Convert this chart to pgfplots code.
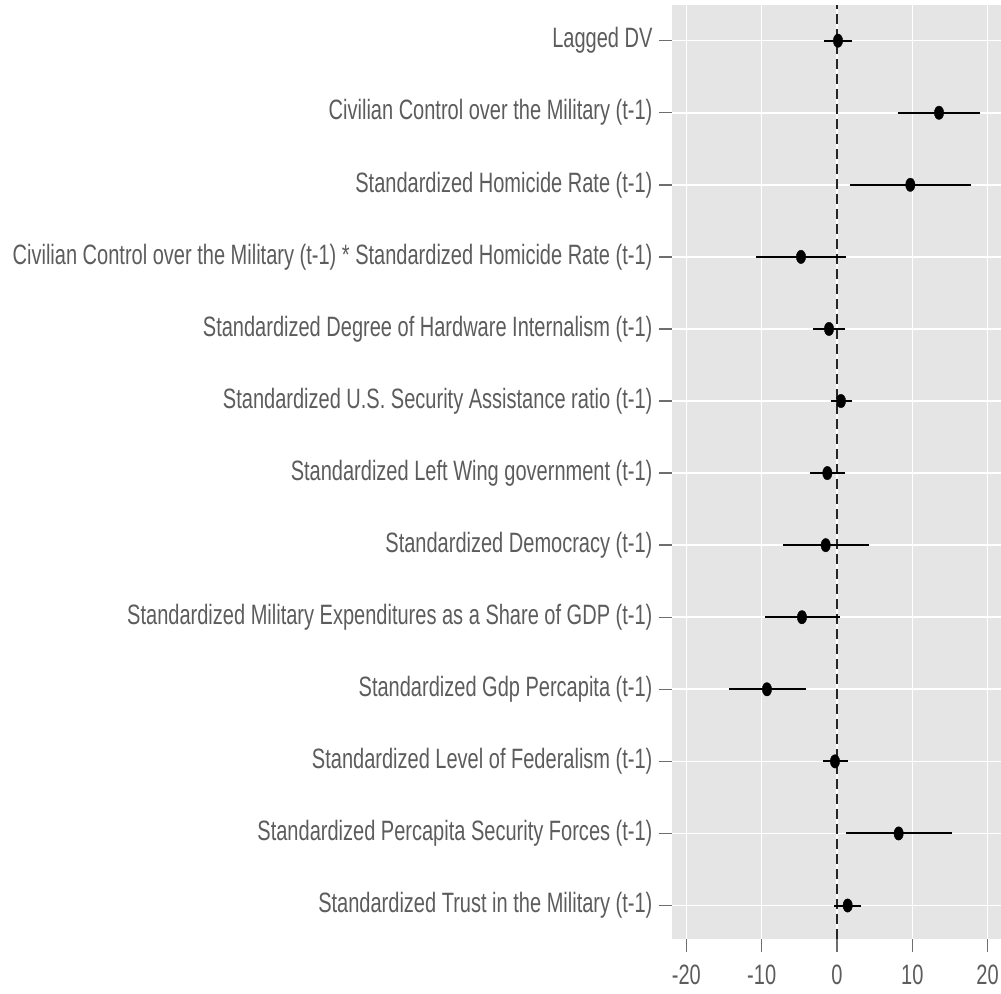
\documentclass[border=0pt]{standalone}
\usepackage{fontspec}
\setmainfont[FakeStretch=0.715]{Liberation Sans}
\usepackage{pgfplots}
\pgfplotsset{compat=1.18}
\usepackage{pgfplotstable}
\usetikzlibrary{calc}
\definecolor{panelbg}{RGB}{229,229,229}
\definecolor{labgray}{RGB}{92,92,92}
\definecolor{tickgray}{RGB}{110,110,110}
\pgfplotstableread{
row est lo hi
1 0.13 -1.69 1.95
2 13.55 8.1 19.0
3 9.74 1.68 17.8
4 -4.78 -10.76 1.2
5 -1.06 -3.23 1.06
6 0.53 -0.75 1.95
7 -1.28 -3.58 1.06
8 -1.5 -7.13 4.2
9 -4.65 -9.6 0.35
10 -9.3 -14.4 -4.1
11 -0.27 -1.9 1.42
12 8.19 1.2 15.23
13 1.42 -0.35 3.23
}\coefs
\begin{document}
\begin{tikzpicture}
\begin{axis}[
  name=ax,
  scale only axis,
  width=329pt, height=934pt,
  xmin=-21.91, xmax=21.78,
  ymin=0.505, ymax=13.465,
  y dir=reverse,
  axis line style={draw=none},
  axis background/.style={fill=panelbg},
  xtick={-20,-10,0,10,20},
  xticklabels={-20,-10,0,10,20},
  ytick={1,...,13},
  yticklabels={
    Lagged DV,
    Civilian Control over the Military (t-1),
    Standardized Homicide Rate (t-1),
    Civilian Control over the Military (t-1) * Standardized Homicide Rate (t-1),
    Standardized Degree of Hardware Internalism (t-1),
    Standardized U.S. Security Assistance ratio (t-1),
    Standardized Left Wing government (t-1),
    Standardized Democracy (t-1),
    Standardized Military Expenditures as a Share of GDP (t-1),
    Standardized Gdp Percapita (t-1),
    Standardized Level of Federalism (t-1),
    Standardized Percapita Security Forces (t-1),
    Standardized Trust in the Military (t-1)
  },
  xtick pos=bottom, ytick pos=left,
  tick align=outside,
  major tick length=13pt,
  tick style={draw=tickgray, line width=1.4pt},
  ticklabel style={font=\fontsize{28}{32}\selectfont, text=labgray},
  xticklabel style={yshift=-9pt},
  yticklabel style={xshift=-3pt},
  xmajorgrids, ymajorgrids,
  major x grid style={draw=white, line width=1.4pt},
  major y grid style={draw=white, line width=1.6pt},
  clip=true,
]
\addplot[black!85, line width=1.3pt, dash pattern=on 10pt off 5pt] coordinates {(0,0) (0,14)};
\addplot[draw=none, mark=none,
  error bars/.cd, x dir=both, x explicit, error mark=none,
  error bar style={draw=black, line width=2pt, solid}]
  table[x=est, y=row,
    x error plus expr=\thisrow{hi}-\thisrow{est},
    x error minus expr=\thisrow{est}-\thisrow{lo}] {\coefs};
\addplot[only marks, mark=*, mark size=6.7pt, mark options={xscale=0.7, fill=black, draw=black}]
  table[x=est, y=row] {\coefs};
\end{axis}
\pgfresetboundingbox
\path ($(ax.south west)+(-672pt,-54pt)$) rectangle ($(ax.north east)+(0pt,5pt)$);
\end{tikzpicture}
\end{document}
